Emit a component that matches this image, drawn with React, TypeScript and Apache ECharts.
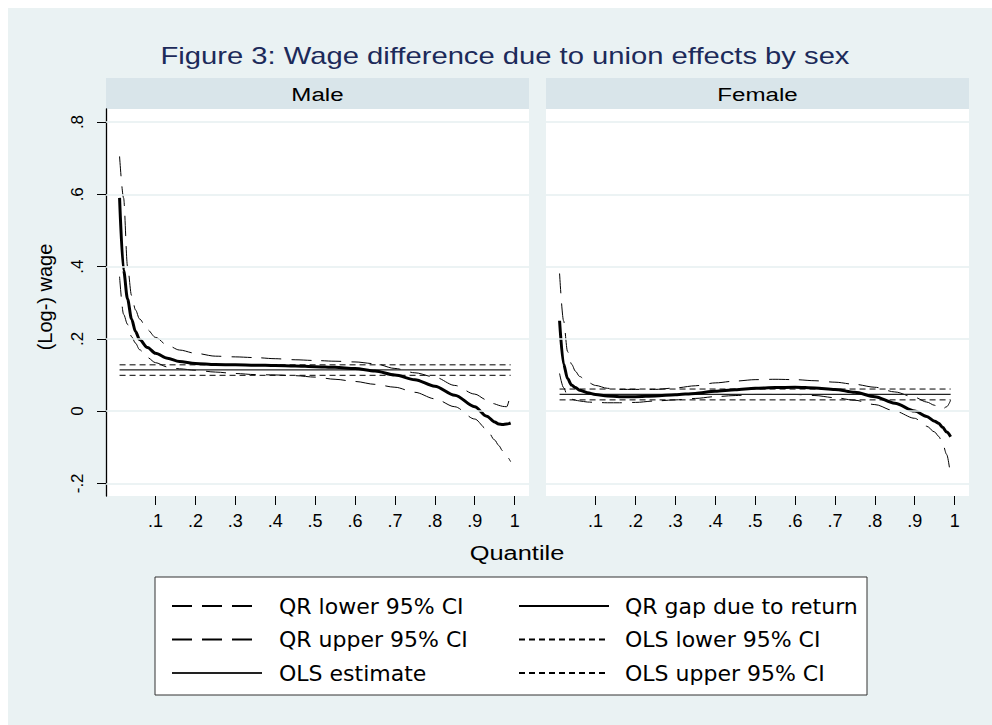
import React, { useEffect, useRef } from 'react';
import * as echarts from 'echarts';

// Quantile grid (x values)
const quantiles = [0.01, 0.02, 0.03, 0.04, 0.05, 0.06, 0.08, 0.10, 0.13, 0.16, 0.2, 0.25, 0.3, 0.35, 0.4, 0.45, 0.5, 0.55, 0.6, 0.65, 0.7, 0.75, 0.8, 0.85, 0.9, 0.93, 0.95, 0.96, 0.97, 0.98, 0.99];

// Male panel
const maleGap = [0.59, 0.39, 0.31, 0.255, 0.22, 0.198, 0.176, 0.16, 0.146, 0.137, 0.132, 0.129, 0.128, 0.127, 0.126, 0.125, 0.123, 0.121, 0.118, 0.111, 0.10, 0.087, 0.069, 0.044, 0.012, -0.014, -0.03, -0.036, -0.037, -0.036, -0.033];
const maleUpper = [0.705, 0.59, 0.40, 0.32, 0.28, 0.255, 0.225, 0.204, 0.182, 0.169, 0.16, 0.152, 0.15, 0.148, 0.145, 0.142, 0.14, 0.138, 0.136, 0.131, 0.118, 0.106, 0.094, 0.071, 0.047, 0.031, 0.02, 0.016, 0.013, 0.012, 0.05];
const maleLower = [0.372, 0.268, 0.24, 0.206, 0.188, 0.17, 0.148, 0.134, 0.122, 0.117, 0.113, 0.108, 0.104, 0.101, 0.10, 0.098, 0.094, 0.088, 0.082, 0.074, 0.066, 0.052, 0.034, 0.012, -0.022, -0.05, -0.08, -0.095, -0.11, -0.125, -0.14];

// Female panel
const femaleGap = [0.25, 0.13, 0.09, 0.072, 0.065, 0.058, 0.051, 0.046, 0.042, 0.04, 0.04, 0.042, 0.045, 0.049, 0.055, 0.059, 0.063, 0.065, 0.066, 0.064, 0.06, 0.052, 0.04, 0.022, 0.0, -0.015, -0.028, -0.034, -0.045, -0.058, -0.071];
const femaleUpper = [0.381, 0.25, 0.165, 0.13, 0.11, 0.096, 0.08, 0.071, 0.063, 0.06, 0.06, 0.06, 0.064, 0.07, 0.078, 0.083, 0.087, 0.088, 0.087, 0.084, 0.08, 0.074, 0.066, 0.053, 0.038, 0.025, 0.016, 0.009, 0.006, 0.012, 0.03];
const femaleLower = [0.104, 0.065, 0.042, 0.033, 0.03, 0.028, 0.025, 0.024, 0.023, 0.023, 0.024, 0.028, 0.031, 0.035, 0.04, 0.043, 0.046, 0.046, 0.046, 0.043, 0.037, 0.03, 0.018, 0.0, -0.02, -0.042, -0.058, -0.07, -0.09, -0.12, -0.18];

// OLS (male, female)
const olsEstimate = [0.114, 0.046];
const olsLower = [0.099, 0.031];
const olsUpper = [0.128, 0.061];

const panels = ['Male', 'Female'];
const xTicks = [0.1, 0.2, 0.3, 0.4, 0.5, 0.6, 0.7, 0.8, 0.9, 1];
const yTicks = [-0.2, 0, 0.2, 0.4, 0.6, 0.8];

const title = 'Figure 3: Wage difference due to union effects by sex';
const yTitle = '(Log-) wage';
const xTitle = 'Quantile';

const FONT = "'Liberation Sans', Arial, sans-serif";
const WIDE_FONT = "'DejaVu Sans', 'Liberation Sans', sans-serif";
const STRETCH = 1.27;

const fmt = (v: number) => {
  const s = String(Math.round(v * 10) / 10);
  return s.replace(/^(-?)0\./, '$1.');
};

export default function App() {
  const ref = useRef<HTMLDivElement>(null);

  useEffect(() => {
    if (!ref.current) return;
    const chart = echarts.init(ref.current, undefined, { renderer: 'svg' });

    const gaps = [maleGap, femaleGap];
    const uppers = [maleUpper, femaleUpper];
    const lowers = [maleLower, femaleLower];

    const pair = (ys: number[]) => quantiles.map((q, k) => [q, ys[k]]);
    const flat = (v: number) => [[quantiles[0], v], [quantiles[quantiles.length - 1], v]];

    const gridLeft = [98, 538];
    const gridTop = 101;
    const gridW = 423;
    const gridH = 387;

    const series: any[] = [];
    panels.forEach((_, i) => {
      const base = {
        type: 'line',
        xAxisIndex: i,
        yAxisIndex: i,
        showSymbol: false,
        symbol: 'none',
        silent: true,
        itemStyle: { color: '#000' },
      };
      series.push({
        ...base,
        name: '__grid' + i,
        data: [],
        z: 1,
        markLine: {
          silent: true,
          symbol: 'none',
          label: { show: false },
          lineStyle: { color: '#E6EFF1', width: 1.5, type: 'solid' },
          data: yTicks.map((v) => ({ yAxis: v })),
        },
      });
      series.push({
        ...base, name: 'QR lower 95% CI', data: pair(lowers[i]), smooth: 0.3, smoothMonotone: 'x', z: 3,
        lineStyle: { color: '#000', width: 1, type: [20, 10] },
      });
      series.push({
        ...base, name: 'QR upper 95% CI', data: pair(uppers[i]), smooth: 0.3, smoothMonotone: 'x', z: 3,
        lineStyle: { color: '#000', width: 1, type: [20, 10] },
      });
      series.push({
        ...base, name: 'OLS estimate', data: flat(olsEstimate[i]), z: 3,
        lineStyle: { color: '#222', width: 1.2, type: 'solid' },
      });
      series.push({
        ...base, name: 'QR gap due to return', data: pair(gaps[i]), smooth: 0.3, smoothMonotone: 'x', z: 4,
        lineStyle: { color: '#000', width: 3, type: 'solid' },
      });
      series.push({
        ...base, name: 'OLS lower 95% CI', data: flat(olsLower[i]), z: 3,
        lineStyle: { color: '#000', width: 1, type: [6, 4] },
      });
      series.push({
        ...base, name: 'OLS upper 95% CI', data: flat(olsUpper[i]), z: 3,
        lineStyle: { color: '#000', width: 1, type: [6, 4] },
      });
    });

    const legendCommon = {
      orient: 'vertical',
      top: 587,
      padding: 0,
      itemWidth: 90,
      itemHeight: 14,
      itemGap: 11.5,
      selectedMode: false,
      itemStyle: { opacity: 0, borderWidth: 0 },
    };

    const option: any = {
      animation: false,
      backgroundColor: '#EAF2F3',
      textStyle: { fontFamily: FONT },
      grid: panels.map((_, i) => ({
        left: gridLeft[i], top: gridTop, width: gridW, height: gridH,
        show: true, backgroundColor: '#ffffff', borderWidth: 0, containLabel: false,
      })),
      xAxis: panels.map((_, i) => ({
        type: 'value', gridIndex: i, min: -0.024, max: 1.036,
        axisLine: { show: false, onZero: false },
        axisTick: { show: true, length: 9, customValues: xTicks, lineStyle: { color: '#000', width: 1 } },
        axisLabel: { show: true, customValues: xTicks, formatter: fmt, fontSize: 18, color: '#000', margin: 16, fontFamily: FONT },
        splitLine: { show: false },
      })),
      yAxis: panels.map((_, i) => (i === 0 ? {
        type: 'value', gridIndex: i, min: -0.235, max: 0.836,
        axisLine: { show: true, onZero: false, lineStyle: { color: '#000', width: 1.3 } },
        axisTick: { show: true, length: 9, customValues: yTicks, lineStyle: { color: '#000', width: 1 } },
        axisLabel: { show: true, customValues: yTicks, formatter: fmt, rotate: 90, fontSize: 17, color: '#000', margin: 20, fontFamily: FONT },
        splitLine: { show: false },
      } : {
        type: 'value', gridIndex: i, min: -0.235, max: 0.836, show: false,
        axisLine: { onZero: false },
        splitLine: { show: false },
      })),
      legend: [
        {
          ...legendCommon, left: 163,
          textStyle: { fontSize: 22, color: '#000', fontFamily: WIDE_FONT, padding: [0, 0, 0, 12] },
          data: ['QR lower 95% CI', 'QR upper 95% CI', 'OLS estimate'],
        },
        {
          ...legendCommon, left: 510,
          textStyle: { fontSize: 22, color: '#000', fontFamily: WIDE_FONT, padding: [0, 0, 0, 11] },
          data: ['QR gap due to return', 'OLS lower 95% CI', 'OLS upper 95% CI'],
        },
      ],
      graphic: [
        {
          type: 'text', x: 497, y: 48, scaleX: STRETCH, z: 10,
          style: { text: title, fontSize: 23, fill: '#1C2A5A', align: 'center', verticalAlign: 'middle', fontFamily: FONT },
        },
        ...panels.map((p, i) => ({
          type: 'group', z: 5,
          children: [
            { type: 'rect', shape: { x: gridLeft[i], y: 70, width: gridW, height: 31 }, style: { fill: '#D9E5EA' } },
            {
              type: 'text', x: gridLeft[i] + gridW / 2, y: 86, scaleX: STRETCH,
              style: { text: p, fontSize: 19, fill: '#000', align: 'center', verticalAlign: 'middle', fontFamily: FONT },
            },
          ],
        })),
        {
          type: 'text', x: 37, y: 289, rotation: Math.PI / 2, z: 10,
          style: { text: yTitle, fontSize: 20, fill: '#000', align: 'center', verticalAlign: 'middle', fontFamily: FONT },
        },
        {
          type: 'text', x: 509, y: 545, scaleX: STRETCH, z: 10,
          style: { text: xTitle, fontSize: 20, fill: '#000', align: 'center', verticalAlign: 'middle', fontFamily: FONT },
        },
        {
          type: 'rect', z: -1,
          shape: { x: 147, y: 569, width: 712, height: 118 },
          style: { fill: '#ffffff', stroke: '#333', lineWidth: 1 },
        },
      ],
      series,
    };

    chart.setOption(option);
    return () => chart.dispose();
  }, []);

  return (
    <div
      ref={ref}
      style={{ position: 'absolute', left: 8, top: 8, width: 984, height: 717 }}
    />
  );
}
